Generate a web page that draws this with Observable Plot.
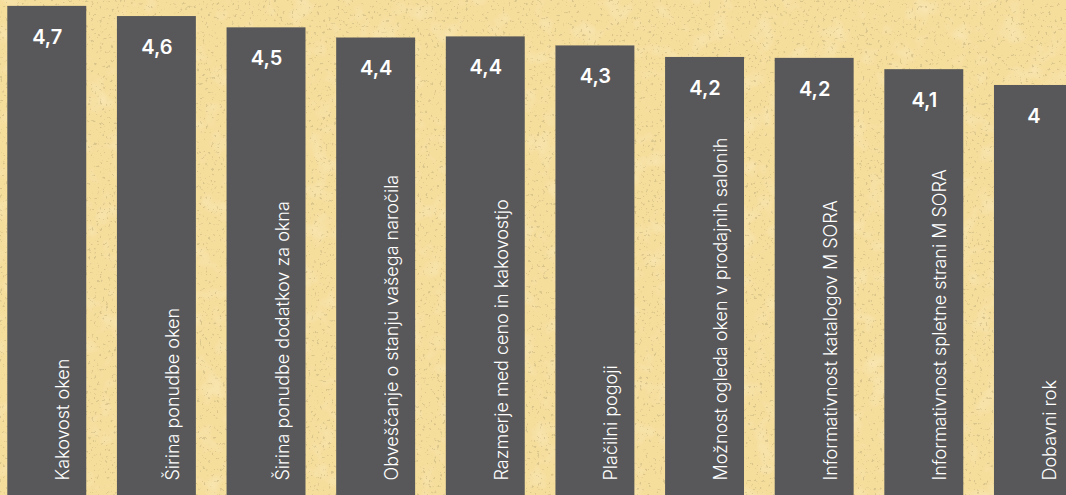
<!DOCTYPE html>
<html>
<head>
<meta charset="utf-8">
<script src="https://cdn.jsdelivr.net/npm/d3@7"></script>
<script src="https://cdn.jsdelivr.net/npm/@observablehq/plot@0.6"></script>
<style>
  html, body { margin: 0; padding: 0; overflow: hidden; width: 1066px; height: 495px; background: #f5dd9b; }
  #bg { position: absolute; left: 0; top: 0; }
  #chart { position: absolute; left: 0; top: 0; }
</style>
</head>
<body>
<svg id="bg" width="1066" height="495">
  <filter id="mottle" x="0" y="0" width="100%" height="100%">
    <feTurbulence type="fractalNoise" baseFrequency="0.045" numOctaves="3" seed="7"/>
    <feColorMatrix type="matrix" values="0 0 0 0 0.99  0 0 0 0 0.91  0 0 0 0 0.70  0 0 0 2.0 -1.0"/>
  </filter>
  <filter id="speck" x="0" y="0" width="100%" height="100%">
    <feTurbulence type="fractalNoise" baseFrequency="0.35" numOctaves="2" seed="11"/>
    <feColorMatrix type="matrix" values="0 0 0 0 0.52  0 0 0 0 0.42  0 0 0 0 0.20  0 0 0 10 -6.5"/>
  </filter>
  <rect width="1066" height="495" fill="#f5dd9b"/>
  <rect width="1066" height="495" filter="url(#mottle)" opacity="0.4"/>
  <rect width="1066" height="495" filter="url(#speck)" opacity="0.5"/>
</svg>
<div id="chart"></div>
<script>
const categories = [
  "Kakovost oken",
  "Širina ponudbe oken",
  "Širina ponudbe dodatkov za okna",
  "Obveščanje o stanju vašega naročila",
  "Razmerje med ceno in kakovostjo",
  "Plačilni pogoji",
  "Možnost ogleda oken v prodajnih salonih",
  "Informativnost katalogov M SORA",
  "Informativnost spletne strani M SORA",
  "Dobavni rok"
];
const values = [4.70, 4.61, 4.51, 4.42, 4.43, 4.35, 4.248, 4.24, 4.14, 4.00];

const data = categories.map((c, i) => ({category: c, value: values[i]}));

const sl = d3.formatLocale({decimal: ",", thousands: ".", grouping: [3], currency: ["", " €"]});
const fmt = sl.format(".2~r");

const chart = Plot.plot({
  width: 1066,
  height: 495,
  marginTop: 0,
  marginRight: 0,
  marginBottom: 0,
  marginLeft: 0,
  style: {background: "transparent", fontFamily: "Inter, 'Noto Sans', sans-serif"},
  x: {type: "band", domain: categories, range: [7.3, 1072.9], paddingInner: 0.28, paddingOuter: 0, round: false, axis: null},
  y: {domain: [0, 4.752], range: [537, 0], axis: null},
  marks: [
    Plot.barY(data, {x: "category", y: "value", fill: "#58585a"}),
    Plot.text(data, {
      x: "category", y: "value", text: d => fmt(d.value),
      dy: 31, fill: "white", fontSize: 20, fontWeight: 600
    }),
    Plot.text(data, {
      x: "category", text: "category", frameAnchor: "bottom",
      rotate: -90, textAnchor: "start", dx: 22, dy: -15,
      fill: "white", fontSize: 18, fontWeight: 300
    })
  ]
});
document.getElementById("chart").appendChild(chart);
</script>
</body>
</html>
